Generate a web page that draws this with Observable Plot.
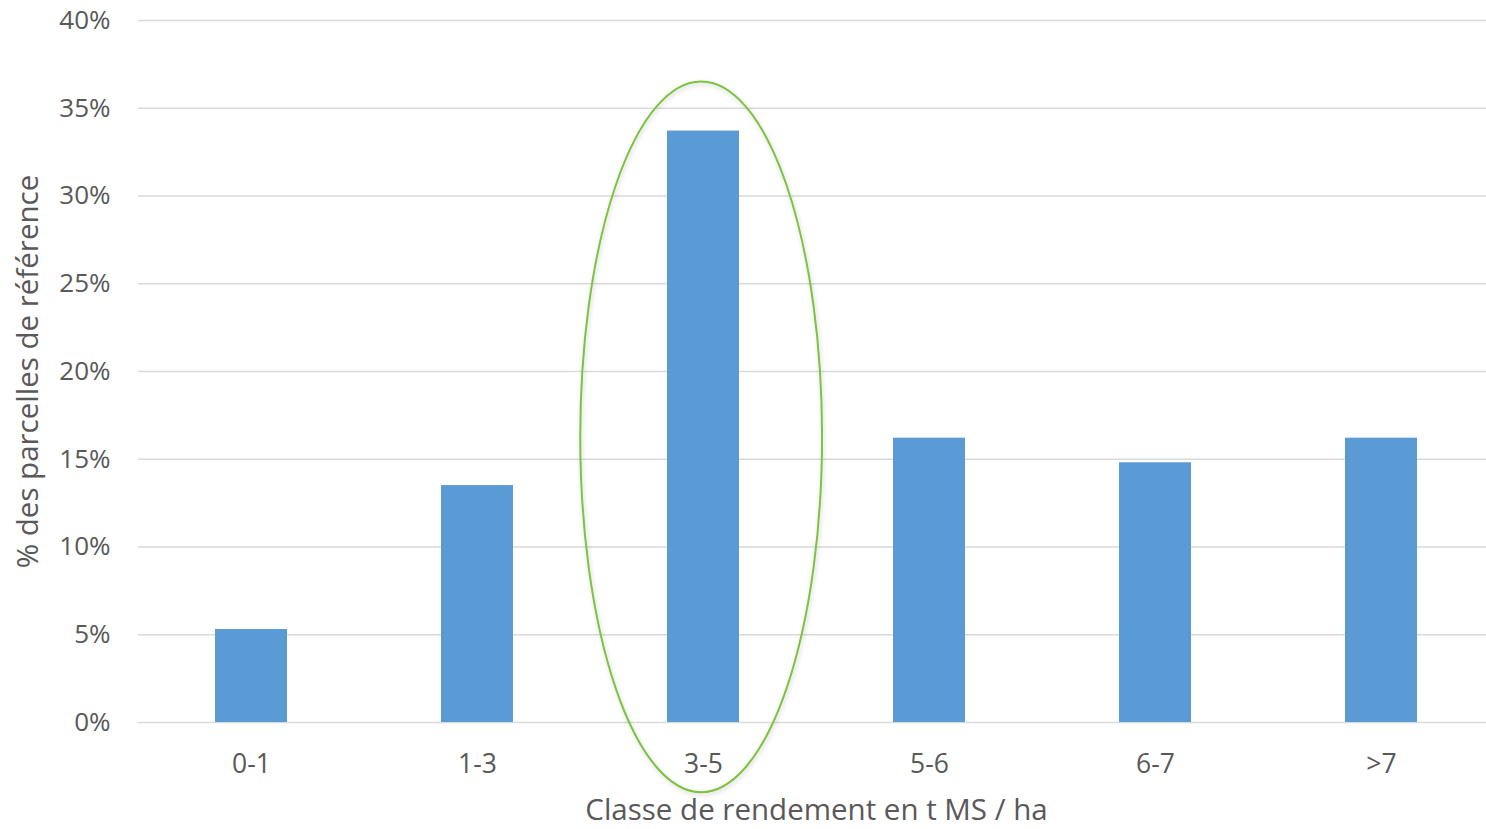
<!DOCTYPE html>
<html>
<head>
<meta charset="utf-8">
<script src="https://cdn.jsdelivr.net/npm/d3@7"></script>
<script src="https://cdn.jsdelivr.net/npm/@observablehq/plot@0.6"></script>
<style>
  html, body { margin: 0; padding: 0; background: #fff; }
  #chart svg { display: block; }
</style>
</head>
<body>
<div id="chart"></div>
<script>
// Yield classes (t DM / ha) and share of reference plots in each class (%)
const classes = ["0-1", "1-3", "3-5", "5-6", "6-7", ">7"];
const shares = [5.3, 13.5, 33.7, 16.2, 14.8, 16.2];
const yTicks = [0, 5, 10, 15, 20, 25, 30, 35, 40];
const highlighted = "3-5";
const yTitle = "% des parcelles de référence";
const xTitle = "Classe de rendement en t MS / ha";

const rows = classes.map((classe, i) => ({classe, part: shares[i]}));

const textColor = "#595959";
const barPadding = 0.68;

// Green ring drawn around the highlighted class, spanning from below the axis to above the bar
const highlightRing = (index, scales) => {
  const x = scales.x;
  const step = x(classes[1]) - x(classes[0]);
  const bandwidth = step * (1 - barPadding);
  const cx = x(highlighted) + bandwidth / 2 - 2;
  const yTop = scales.y(36.5);
  const yBottom = scales.y(-4);
  const ns = "http://www.w3.org/2000/svg";
  const g = document.createElementNS(ns, "g");
  const defs = document.createElementNS(ns, "defs");
  defs.innerHTML = `<filter id="ring-shadow" x="-20%" y="-20%" width="140%" height="140%">
      <feDropShadow dx="1" dy="2" stdDeviation="2" flood-color="#000" flood-opacity="0.18"/>
    </filter>`;
  g.appendChild(defs);
  const e = document.createElementNS(ns, "ellipse");
  e.setAttribute("cx", cx);
  e.setAttribute("cy", (yTop + yBottom) / 2);
  e.setAttribute("rx", step * 0.535);
  e.setAttribute("ry", (yBottom - yTop) / 2);
  e.setAttribute("fill", "none");
  e.setAttribute("stroke", "#7dc242");
  e.setAttribute("stroke-width", 2);
  e.setAttribute("filter", "url(#ring-shadow)");
  g.appendChild(e);
  return g;
};

const chart = Plot.plot({
  width: 1486,
  height: 829,
  marginLeft: 138,
  marginRight: 0,
  marginTop: 20,
  marginBottom: 107,
  style: {fontFamily: "'Open Sans', sans-serif", color: textColor, background: "#fff"},
  x: {domain: classes, type: "band", paddingInner: barPadding, paddingOuter: barPadding / 2, range: [138, 1495]},
  y: {domain: [0, 40]},
  marks: [
    Plot.ruleY(yTicks, {stroke: "#d9d9d9", strokeWidth: 1.4}),
    Plot.barY(rows, {x: "classe", y: "part", fill: "#5b9bd5"}),
    Plot.axisY({ticks: yTicks, tickFormat: d => d + "%", tickSize: 0, tickPadding: 28, label: null, fontSize: 26, fill: textColor}),
    Plot.axisX({tickSize: 0, tickPadding: 32, label: null, fontSize: 26.5, fill: textColor}),
    Plot.text([yTitle], {frameAnchor: "left", dx: -110, rotate: -90, textAnchor: "middle", lineAnchor: "middle", fontSize: 29.5, fill: textColor}),
    Plot.text([xTitle], {frameAnchor: "bottom", dx: 4, dy: 88, textAnchor: "middle", lineAnchor: "middle", fontSize: 29.5, fill: textColor}),
    highlightRing
  ]
});

document.getElementById("chart").appendChild(chart);
</script>
</body>
</html>
